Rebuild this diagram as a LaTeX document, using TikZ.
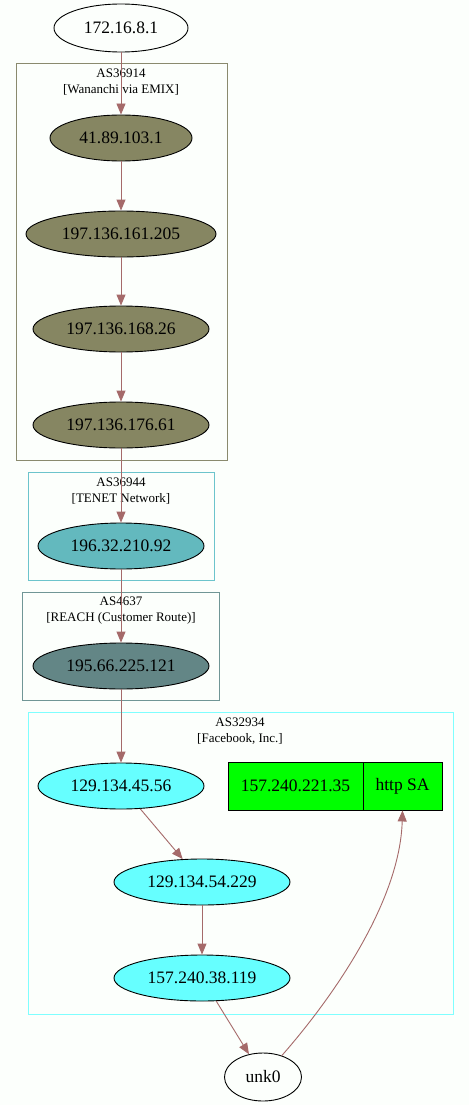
\documentclass[tikz,border=0pt]{standalone}
\usepackage{fontspec}
\setmainfont{Liberation Serif}
\usetikzlibrary{shapes.geometric,arrows.meta}

% Kleuren van de knopen en clusters
\definecolor{achtergrond}{RGB}{252,255,252}
\definecolor{pijlkleur}{RGB}{165,106,106}
\definecolor{olijf}{RGB}{134,134,98}
\definecolor{olijfrand}{RGB}{138,138,110}
\definecolor{tenet}{RGB}{99,185,190}
\definecolor{tenetrand}{RGB}{108,196,204}
\definecolor{reach}{RGB}{99,134,134}
\definecolor{reachrand}{RGB}{112,150,150}
\definecolor{facebook}{RGB}{102,255,255}
\definecolor{facebookrand}{RGB}{127,255,255}
\definecolor{groen}{RGB}{0,255,0}

\begin{document}
\begin{tikzpicture}[x=1pt,y=-1pt,
    knoop/.style={ellipse, draw=black, line width=0.9pt, inner sep=0pt, minimum height=46pt, font=\fontsize{17.5}{20}\selectfont},
    vak/.style={rectangle, draw=black, line width=0.9pt, fill=groen, inner sep=0pt, minimum height=48pt, font=\fontsize{17.5}{20}\selectfont},
    pijl/.style={draw=pijlkleur, line width=0.9pt, -{Triangle[length=11pt,width=9pt]}},
    cluster/.style={draw=#1, line width=1pt},
    clusterlabel/.style={font=\fontsize{13}{16}\selectfont, align=center}]

    % Achtergrond en afmetingen
    \fill[achtergrond] (0,0) rectangle (469,1105);
    \useasboundingbox (0,0) rectangle (469,1105);

    % Teken de clusters (autonome systemen)
    \draw[cluster=olijfrand] (16,64) rectangle (227,460);
    \node[clusterlabel] (lab36914) at (121,82) {AS36914\\{[}Wananchi via EMIX{]}};
    \draw[cluster=tenetrand] (28,472) rectangle (214,580);
    \node[clusterlabel] (lab36944) at (121,491) {AS36944\\{[}TENET Network{]}};
    \draw[cluster=reachrand] (22,592) rectangle (219,700);
    \node[clusterlabel] (lab4637) at (121,611) {AS4637\\{[}REACH (Customer Route){]}};
    \draw[cluster=facebookrand] (28,712) rectangle (453,1014);
    \node[clusterlabel] (lab32934) at (240,731) {AS32934\\{[}Facebook, Inc.{]}};

    % Teken de knopen (hops)
    \node[knoop, minimum width=134pt, minimum height=48pt] (n172) at (121,28) {172.16.8.1};
    \node[knoop, fill=olijf, minimum width=142pt] (n41) at (121,138) {41.89.103.1};
    \node[knoop, fill=olijf, minimum width=190pt] (n197a) at (121,234) {197.136.161.205};
    \node[knoop, fill=olijf, minimum width=176pt] (n197b) at (121,329) {197.136.168.26};
    \node[knoop, fill=olijf, minimum width=176pt] (n197c) at (121,425) {197.136.176.61};
    \node[knoop, fill=tenet, minimum width=166pt] (n196) at (121,546) {196.32.210.92};
    \node[knoop, fill=reach, minimum width=176pt] (n195) at (121,666) {195.66.225.121};
    \node[knoop, fill=facebook, minimum width=166pt] (n129a) at (121,786) {129.134.45.56};
    \node[knoop, fill=facebook, minimum width=176pt] (n129b) at (202,882) {129.134.54.229};
    \node[knoop, fill=facebook, minimum width=176pt] (n157) at (202,978) {157.240.38.119};
    \node[knoop, minimum width=77pt, minimum height=48pt] (unk0) at (263,1077) {unk0};

    % Teken het doel (record met twee vakken)
    \node[vak, minimum width=135pt] (rec1) at (295.5,786) {157.240.221.35};
    \node[vak, minimum width=79pt] (rec2) at (402.5,786) {http SA};

    % Teken de verbindingen
    \draw[pijl] (n172) -- (n41);
    \draw[pijl] (n41) -- (n197a);
    \draw[pijl] (n197a) -- (n197b);
    \draw[pijl] (n197b) -- (n197c);
    \draw[pijl] (n197c) -- (n196);
    \draw[pijl] (n196) -- (n195);
    \draw[pijl] (n195) -- (n129a);
    \draw[pijl] (n129a) -- (n129b);
    \draw[pijl] (n129b) -- (n157);
    \draw[pijl] (n157) -- (unk0);
    \draw[pijl] (unk0) .. controls (335,995) and (400,900) .. (rec2.south); % terug naar http SA

\end{tikzpicture}
\end{document}
